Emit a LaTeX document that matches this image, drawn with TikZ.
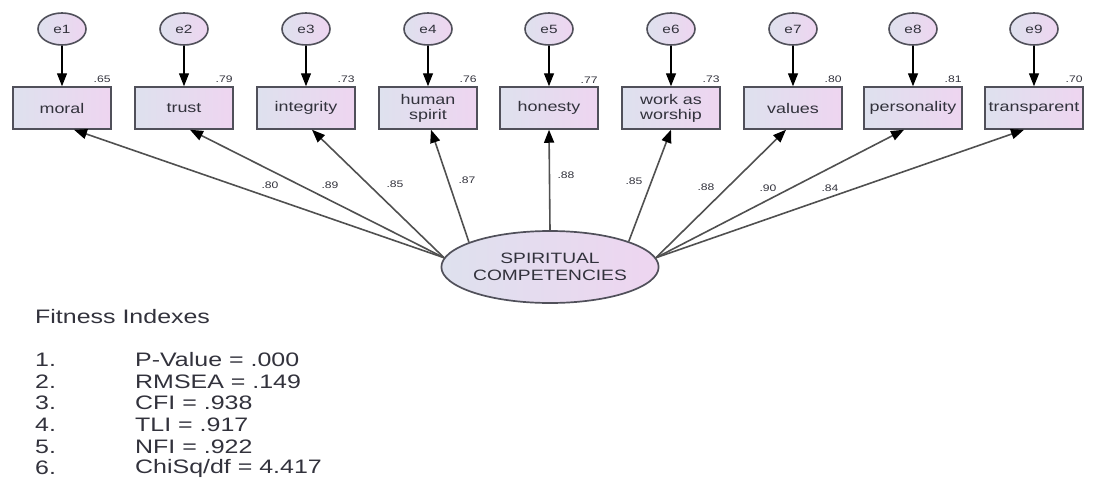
\documentclass[tikz,border=0pt]{standalone}
\usepackage{fontspec}
\setmainfont{Liberation Sans}
\newfontfamily\wide[FakeStretch=1.28]{Liberation Sans}
\usetikzlibrary{arrows.meta,shapes.geometric,calc}
\definecolor{boxL}{RGB}{222,225,238}
\definecolor{boxR}{RGB}{238,213,240}
\definecolor{bord}{RGB}{80,80,90}
\definecolor{txt}{RGB}{50,50,60}
\definecolor{ln}{RGB}{80,80,80}
\begin{document}
\begin{tikzpicture}[x=1pt,y=-1pt,
  lat/.style={ellipse, draw=bord, line width=1.6pt, left color=boxL, right color=boxR,
    minimum width=48pt, minimum height=32pt, inner sep=0pt, text=txt,
    font=\wide\fontsize{12}{14}\selectfont},
  obs/.style={rectangle, draw=bord, line width=1.5pt, left color=boxL, right color=boxR,
    minimum width=98pt, minimum height=42pt, inner sep=0pt, align=center, text=txt,
    font=\wide\fontsize{14}{15}\selectfont},
  big/.style={ellipse, draw=bord, line width=1.7pt, left color=boxL, right color=boxR,
    minimum width=200pt, minimum height=72pt, inner sep=0pt, align=center, text=txt,
    font=\wide\fontsize{15}{17}\selectfont},
  num/.style={inner sep=0pt, text=txt, font=\wide\fontsize{9.5}{10}\selectfont},
  rsq/.style={num, anchor=south east},
  fitx/.style={inner sep=0pt, anchor=west, text=txt, font=\wide\fontsize{19.5}{21.6}\selectfont},
  errarr/.style={draw=black, line width=1.4pt, -{Triangle[length=13pt,width=10pt]}},
  loadarr/.style={draw=ln, line width=1.6pt, -{Triangle[length=13pt,width=10pt,fill=black,color=black]}}
]
\useasboundingbox (0,0) rectangle (1097,479);

% error terms
\foreach \i/\x in {1/62,2/184,3/306,4/428,5/549,6/671,7/793,8/913,9/1034}{
  \node[lat] (e\i) at (\x,29) {e\i};
}
% observed variables
\node[obs] (b1) at (62,108) {moral};
\node[obs] (b2) at (184,108) {trust};
\node[obs] (b3) at (306,108) {integrity};
\node[obs] (b4) at (428,108) {human\\spirit};
\node[obs] (b5) at (549,108) {honesty};
\node[obs] (b6) at (671,108) {work as\\worship};
\node[obs] (b7) at (793,108) {values};
\node[obs] (b8) at (913,108) {personality};
\node[obs] (b9) at (1034,108) {transparent};

\foreach \i in {1,...,9}{ \draw[errarr] (e\i) -- (b\i); }

% squared multiple correlations
\node[rsq] (r1) at ([xshift=-1pt,yshift=3pt]b1.north east) {.65};
\node[rsq] (r2) at ([xshift=-1pt,yshift=3pt]b2.north east) {.79};
\node[rsq] (r3) at ([xshift=-1pt,yshift=3pt]b3.north east) {.73};
\node[rsq] (r4) at ([xshift=-1pt,yshift=3pt]b4.north east) {.76};
\node[rsq] (r5) at ([xshift=-1pt,yshift=3pt]b5.north east) {.77};
\node[rsq] (r6) at ([xshift=-1pt,yshift=3pt]b6.north east) {.73};
\node[rsq] (r7) at ([xshift=-1pt,yshift=3pt]b7.north east) {.80};
\node[rsq] (r8) at ([xshift=-1pt,yshift=3pt]b8.north east) {.81};
\node[rsq] (r9) at ([xshift=-1pt,yshift=3pt]b9.north east) {.70};

% latent factor
\node[big] (sc) at (550,267) {SPIRITUAL\\COMPETENCIES};

\draw[loadarr] (sc.175) -- ([xshift=12pt]b1.south);
\draw[loadarr] (sc.175) -- ([xshift=6pt]b2.south);
\draw[loadarr] (sc.175) -- ([xshift=6pt]b3.south);
\draw[loadarr] (sc.163) -- ([xshift=3pt]b4.south);
\draw[loadarr] (sc.north) -- (b5.south);
\draw[loadarr] (sc.18) -- (b6.south);
\draw[loadarr] (sc.5) -- ([xshift=-7pt]b7.south);
\draw[loadarr] (sc.5) -- ([xshift=-9pt]b8.south);
\draw[loadarr] (sc.5) -- ([xshift=-10pt]b9.south);

% loadings
\node[num] (l1) at (270,185) {.80};
\node[num] (l2) at (330,185) {.89};
\node[num] (l3) at (395,184) {.85};
\node[num] (l4) at (467,180) {.87};
\node[num] (l5) at (566,175) {.88};
\node[num] (l6) at (634,181) {.85};
\node[num] (l7) at (706,187) {.88};
\node[num] (l8) at (768,188) {.90};
\node[num] (l9) at (830,188) {.84};

% fitness indexes
\node[fitx] (fi) at (35,317) {Fitness Indexes};
\foreach \k/\t in {1/{P-Value = .000},2/{RMSEA = .149},3/{CFI = .938},4/{TLI = .917},5/{NFI = .922},6/{ChiSq/df = 4.417}}{
  \node[fitx] (n\k) at (35,{360+21.6*(\k-1)}) {\k.};
  \node[fitx] (t\k) at (135,{360+21.6*(\k-1)}) {\t};
}
\end{tikzpicture}
\end{document}
